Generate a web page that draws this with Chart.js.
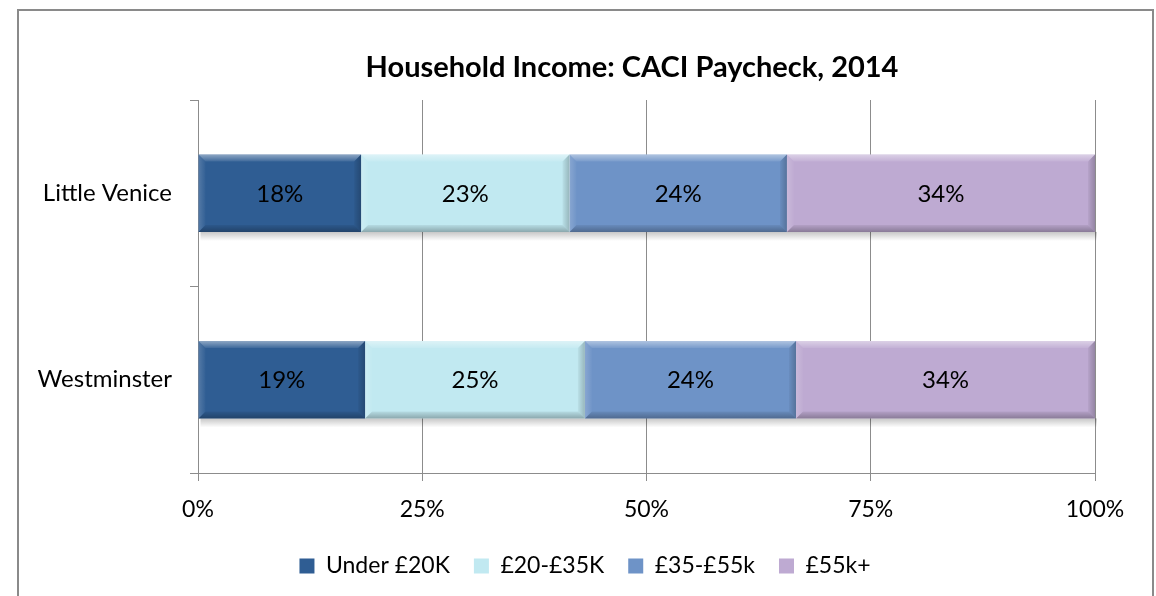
<!DOCTYPE html>
<html>
<head>
<meta charset="utf-8">
<script src="https://cdn.jsdelivr.net/npm/chart.js@4.4.1/dist/chart.umd.min.js"></script>
<style>
html,body{margin:0;padding:0;background:#fff;}
#wrap{position:relative;width:1156px;height:596px;}
</style>
</head>
<body>
<div id="wrap"><canvas id="c" width="1156" height="596"></canvas></div>
<script>
// ---- data ----
const categories = ['Little Venice', 'Westminster'];
const seriesNames = ['Under £20K', '£20-£35K', '£35-£55k', '£55k+'];
const under20k = [18, 19];
const from20to35k = [23, 25];
const from35to55k = [24, 24];
const over55k = [34, 34];
const xTickValues = [0, 25, 50, 75, 100];
const chartTitle = 'Household Income: CACI Paycheck, 2014';

const seriesValues = [under20k, from20to35k, from35to55k, over55k];
const seriesColors = ['#2F5D93', '#C1E9F1', '#6E93C7', '#BEAAD2'];

// 100% stacked: each category normalised to its own total (as the source chart does)
const totals = categories.map((_, i) => seriesValues.reduce((s, arr) => s + arr[i], 0));

const FONT = 'Lato, "Open Sans", sans-serif';
Chart.defaults.font.family = FONT;
Chart.defaults.color = '#000';

const borderPlugin = {
  id: 'frame',
  beforeDraw(chart) {
    const ctx = chart.ctx;
    ctx.save();
    ctx.fillStyle = '#fff';
    ctx.fillRect(0, 0, chart.width, chart.height);
    ctx.strokeStyle = '#8a8a8a';
    ctx.lineWidth = 2;
    ctx.strokeRect(18, 10, 1135, 620);
    ctx.restore();
  },
  afterLayout(chart) {
    if (chart.titleBlock) { chart.titleBlock.left = 132; chart.titleBlock.right = 1132; }
    if (chart.legend) { chart.legend.left = 17; chart.legend.right = 1153; }
  }
};

function barRect(el) {
  const p = el.getProps(['x', 'y', 'base', 'height'], true);
  const l = Math.min(p.x, p.base), r = Math.max(p.x, p.base);
  return {l, r, t: p.y - p.height / 2, b: p.y + p.height / 2};
}

const bevelPlugin = {
  id: 'bevel',
  beforeDatasetsDraw(chart) {
    const ctx = chart.ctx;
    const n = chart.data.labels.length;
    for (let i = 0; i < n; i++) {
      let l = Infinity, r = -Infinity, t = 0, b = 0;
      chart.data.datasets.forEach((ds, di) => {
        const el = chart.getDatasetMeta(di).data[i];
        if (!el) return;
        const q = barRect(el);
        l = Math.min(l, q.l); r = Math.max(r, q.r); t = q.t; b = q.b;
      });
      ctx.save();
      const g = ctx.createLinearGradient(0, b, 0, b + 9);
      g.addColorStop(0, 'rgba(0,0,0,0.22)');
      g.addColorStop(1, 'rgba(0,0,0,0)');
      ctx.fillStyle = g;
      ctx.fillRect(l + 2, b, r - l, 9);
      ctx.restore();
    }
  },
  afterDatasetsDraw(chart) {
    const ctx = chart.ctx;
    chart.data.datasets.forEach((ds, di) => {
      chart.getDatasetMeta(di).data.forEach((el, i) => {
        const q = barRect(el);
        const e = 7;
        ctx.save();
        let g = ctx.createLinearGradient(0, q.t, 0, q.t + e);
        g.addColorStop(0, 'rgba(255,255,255,0.45)');
        g.addColorStop(1, 'rgba(255,255,255,0.08)');
        ctx.fillStyle = g;
        ctx.beginPath();
        ctx.moveTo(q.l, q.t); ctx.lineTo(q.r, q.t); ctx.lineTo(q.r - e, q.t + e); ctx.lineTo(q.l + e, q.t + e); ctx.closePath();
        ctx.fill();
        g = ctx.createLinearGradient(0, q.b - e, 0, q.b);
        g.addColorStop(0, 'rgba(0,0,0,0.06)');
        g.addColorStop(1, 'rgba(0,0,0,0.28)');
        ctx.fillStyle = g;
        ctx.beginPath();
        ctx.moveTo(q.l, q.b); ctx.lineTo(q.r, q.b); ctx.lineTo(q.r - e, q.b - e); ctx.lineTo(q.l + e, q.b - e); ctx.closePath();
        ctx.fill();
        g = ctx.createLinearGradient(q.l, 0, q.l + e, 0);
        g.addColorStop(0, 'rgba(255,255,255,0.18)');
        g.addColorStop(1, 'rgba(255,255,255,0.02)');
        ctx.fillStyle = g;
        ctx.beginPath();
        ctx.moveTo(q.l, q.t); ctx.lineTo(q.l + e, q.t + e); ctx.lineTo(q.l + e, q.b - e); ctx.lineTo(q.l, q.b); ctx.closePath();
        ctx.fill();
        g = ctx.createLinearGradient(q.r - e, 0, q.r, 0);
        g.addColorStop(0, 'rgba(0,0,0,0.04)');
        g.addColorStop(1, 'rgba(0,0,0,0.22)');
        ctx.fillStyle = g;
        ctx.beginPath();
        ctx.moveTo(q.r, q.t); ctx.lineTo(q.r - e, q.t + e); ctx.lineTo(q.r - e, q.b - e); ctx.lineTo(q.r, q.b); ctx.closePath();
        ctx.fill();
        ctx.restore();
      });
    });
    ctx.save();
    ctx.font = '24px ' + FONT;
    ctx.fillStyle = '#000';
    ctx.textAlign = 'center';
    ctx.textBaseline = 'middle';
    chart.data.datasets.forEach((ds, di) => {
      chart.getDatasetMeta(di).data.forEach((el, i) => {
        const q = barRect(el);
        ctx.fillText(ds.rawValues[i] + '%', (q.l + q.r) / 2, (q.t + q.b) / 2 + 1);
      });
    });
    ctx.restore();
  }
};

const datasets = seriesNames.map((name, si) => ({
  label: name,
  rawValues: seriesValues[si],
  data: seriesValues[si].map((v, i) => v / totals[i] * 100),
  backgroundColor: seriesColors[si],
  borderWidth: 0,
  barPercentage: 0.415,
  categoryPercentage: 1.0
}));

new Chart(document.getElementById('c'), {
  type: 'bar',
  data: { labels: categories, datasets },
  options: {
    indexAxis: 'y',
    responsive: false,
    animation: false,
    layout: { padding: { left: 0, right: 61, top: 0, bottom: 8.5 } },
    scales: {
      x: {
        stacked: true,
        min: 0, max: 100,
        afterBuildTicks(scale) { scale.ticks = xTickValues.map(v => ({ value: v })); },
        ticks: { callback: v => v + '%', font: { size: 23 }, color: '#000', padding: 15 },
        grid: { color: '#8c8c8c', lineWidth: 1, tickLength: 8, drawTicks: true },
        border: { color: '#8c8c8c', width: 1 },
        afterFit(scale) { scale.height = 57.5; }
      },
      y: {
        stacked: true,
        ticks: { font: { size: 24 }, color: '#000', padding: 18 },
        grid: { drawOnChartArea: false, drawTicks: true, tickLength: 8, color: '#8c8c8c', offset: true },
        border: { color: '#8c8c8c', width: 1 },
        afterFit(scale) { scale.width = 198; }
      }
    },
    plugins: {
      title: {
        display: true,
        text: chartTitle,
        color: '#000',
        font: { size: 29, weight: 'bold' },
        padding: { top: 50.6, bottom: 14.6 }
      },
      legend: {
        position: 'bottom',
        labels: { font: { size: 23 }, color: '#000', boxWidth: 15, boxHeight: 15, padding: 24 }
      },
      tooltip: { enabled: false }
    }
  },
  plugins: [borderPlugin, bevelPlugin]
});
</script>
</body>
</html>
